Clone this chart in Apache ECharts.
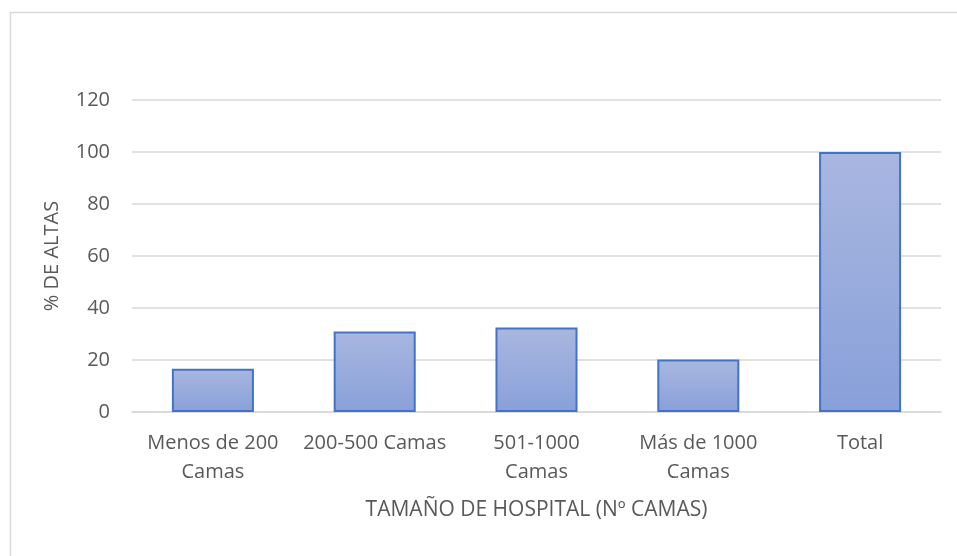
<!DOCTYPE html>
<html>
<head>
<meta charset="utf-8">
<script src="https://cdn.jsdelivr.net/npm/echarts@6/dist/echarts.min.js"></script>
<style>
  html, body { margin: 0; padding: 0; background: #fff; }
  #chart { width: 957px; height: 556px; }
</style>
</head>
<body>
<div id="chart"></div>
<script>
const categories = ['Menos de 200 Camas', '200-500 Camas', '501-1000 Camas', 'Más de 1000 Camas', 'Total']
const categoryLabels = ['Menos de 200\nCamas', '200-500 Camas', '501-1000\nCamas', 'Más de 1000\nCamas', 'Total']
const altas = [16.6, 31, 32.5, 20.2, 100]
const yTicks = [0, 20, 40, 60, 80, 100, 120]

const textColor = '#595959'
const font = 'Open Sans'

const chart = echarts.init(document.getElementById('chart'))
chart.setOption({
  animation: false,
  graphic: [{
    type: 'rect',
    shape: { x: 10.5, y: 12.5, width: 1000, height: 600 },
    style: { fill: 'none', stroke: '#d9d9d9', lineWidth: 1.5 },
    silent: true,
  }],
  grid: {
    left: 132,
    right: 16,
    top: 100,
    bottom: 144,
    containLabel: false,
  },
  xAxis: {
    type: 'category',
    data: categories,
    name: 'TAMAÑO DE HOSPITAL (Nº CAMAS)',
    nameLocation: 'middle',
    nameGap: 88,
    nameTextStyle: { color: textColor, fontSize: 21, fontFamily: font },
    axisLine: { lineStyle: { color: '#d9d9d9', width: 1.5 } },
    axisTick: { show: false },
    axisLabel: {
      color: textColor,
      fontSize: 20,
      fontFamily: font,
      margin: 17,
      lineHeight: 29,
      interval: 0,
      formatter: (v, i) => categoryLabels[i],
    },
  },
  yAxis: {
    type: 'value',
    min: yTicks[0],
    max: yTicks[yTicks.length - 1],
    interval: 20,
    name: '% DE ALTAS',
    nameLocation: 'middle',
    nameGap: 70,
    nameTextStyle: { color: textColor, fontSize: 20, fontFamily: font },
    axisLine: { show: false },
    axisTick: { show: false },
    axisLabel: { color: textColor, fontSize: 20, fontFamily: font, margin: 22 },
    splitLine: { lineStyle: { color: '#d9d9d9', width: 1.5 } },
  },
  series: [{
    type: 'bar',
    data: altas,
    barWidth: '50.7%',
    itemStyle: {
      color: new echarts.graphic.LinearGradient(0, 0, 0, 1, [
        { offset: 0, color: '#a9b7e0' },
        { offset: 1, color: '#88a0d9' },
      ]),
      borderColor: '#4472c4',
      borderWidth: 2,
    },
  }],
})
</script>
</body>
</html>
